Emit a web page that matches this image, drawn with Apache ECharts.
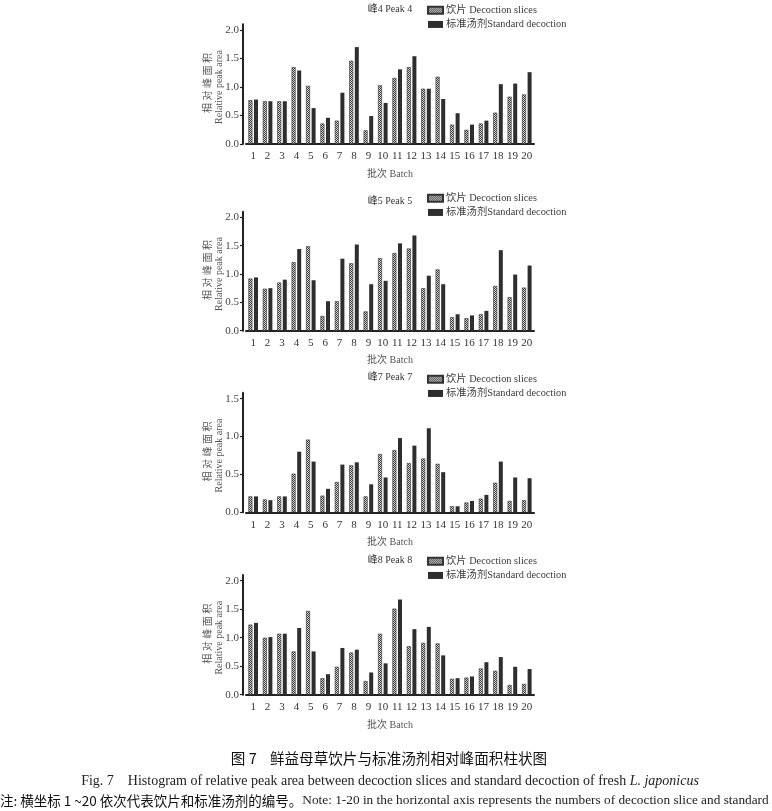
<!DOCTYPE html>
<html>
<head>
<meta charset="utf-8">
<script src="https://cdn.jsdelivr.net/npm/echarts@6/dist/echarts.min.js"></script>
<style>html,body{margin:0;padding:0;background:#fff;}#c{width:772px;height:811px;}</style>
</head>
<body>
<div id="c"></div>
<script>
var categories = ['1','2','3','4','5','6','7','8','9','10','11','12','13','14','15','16','17','18','19','20'];
var peakTitles = ['峰4 Peak 4', '峰5 Peak 5', '峰7 Peak 7', '峰8 Peak 8'];
var yTicks = [[0, 0.5, 1.0, 1.5, 2.0], [0, 0.5, 1.0, 1.5, 2.0], [0, 0.5, 1.0, 1.5], [0, 0.5, 1.0, 1.5, 2.0]];
var yAxisEnds = [2.1, 2.1, 1.58, 2.1];
var peak4Slices = [0.77,0.75,0.75,1.35,1.02,0.36,0.41,1.46,0.24,1.03,1.16,1.35,0.97,1.18,0.34,0.25,0.36,0.55,0.83,0.87];
var peak4Std    = [0.78,0.75,0.75,1.29,0.63,0.46,0.90,1.70,0.49,0.72,1.31,1.54,0.97,0.79,0.54,0.34,0.41,1.05,1.06,1.26];
var peak5Slices = [0.92,0.74,0.85,1.21,1.49,0.26,0.52,1.19,0.34,1.28,1.37,1.45,0.75,1.08,0.24,0.22,0.29,0.79,0.59,0.76];
var peak5Std    = [0.94,0.75,0.90,1.44,0.89,0.52,1.27,1.52,0.82,0.88,1.54,1.68,0.97,0.82,0.29,0.27,0.35,1.42,0.99,1.15];
var peak7Slices = [0.21,0.17,0.21,0.51,0.96,0.22,0.40,0.62,0.21,0.77,0.82,0.65,0.71,0.64,0.08,0.13,0.18,0.39,0.15,0.16];
var peak7Std    = [0.21,0.16,0.21,0.80,0.67,0.31,0.63,0.66,0.37,0.46,0.98,0.88,1.11,0.53,0.08,0.15,0.23,0.67,0.46,0.45];
var peak8Slices = [1.23,1.00,1.07,0.76,1.47,0.29,0.49,0.74,0.24,1.07,1.51,0.85,0.91,0.90,0.28,0.30,0.46,0.42,0.17,0.19];
var peak8Std    = [1.26,1.01,1.07,1.17,0.76,0.36,0.82,0.79,0.39,0.55,1.67,1.15,1.19,0.69,0.29,0.32,0.57,0.66,0.49,0.45];
var slicesName = '饮片 Decoction slices';
var stdName = '标准汤剂Standard decoction';

var sliceData = [peak4Slices, peak5Slices, peak7Slices, peak8Slices];
var stdData = [peak4Std, peak5Std, peak7Std, peak8Std];

// checker pattern
var pc = document.createElement('canvas');
pc.width = 2; pc.height = 2;
var pctx = pc.getContext('2d');
pctx.fillStyle = '#d8d8d8'; pctx.fillRect(0,0,2,2);
pctx.fillStyle = '#3c3c3c'; pctx.fillRect(0,0,1,1); pctx.fillRect(1,1,1,1);
var pattern = {image: pc, repeat: 'repeat'};

var serif = '"Liberation Serif","Noto Sans CJK SC",serif';
// pixel position of the baseline (value 0) and of the top tick for each panel
var zeroY = [144, 330.7, 512.3, 694.7];
var topTickY = [30, 217.3, 398.7, 580.7];
var titleY = [9, 201, 377, 560];
var legendTop = [5, 193, 374, 556];
var xNameY = [174, 360, 542, 725];

var grids = [], xAxes = [], yAxes = [], series = [], legends = [], graphics = [];
for (var i = 0; i < 4; i++) {
  var topVal = yTicks[i][yTicks[i].length - 1];
  var pxPerUnit = (zeroY[i] - topTickY[i]) / topVal;
  var gridTop = zeroY[i] - pxPerUnit * yAxisEnds[i];
  grids.push({left: 246, width: 288, top: gridTop, height: zeroY[i] - gridTop});
  xAxes.push({
    type: 'category', gridIndex: i, data: categories,
    axisLine: {lineStyle: {color: '#222', width: 2}},
    axisTick: {alignWithLabel: true, length: 4, lineStyle: {color: '#222', width: 1.2}},
    axisLabel: {margin: 7, color: '#333', fontFamily: serif, fontSize: 11}
  });
  yAxes.push({
    type: 'value', gridIndex: i, min: 0, max: yAxisEnds[i], offset: 3,
    splitLine: {show: false},
    axisLine: {show: true, lineStyle: {color: '#222', width: 2}},
    axisTick: {show: true, length: 3, customValues: yTicks[i], lineStyle: {color: '#222', width: 1.2}},
    axisLabel: {margin: 4, color: '#444', fontFamily: serif, fontSize: 11, customValues: yTicks[i],
      formatter: function (v) { return Number(v).toFixed(1); }}
  });
  series.push({
    name: slicesName, type: 'bar', xAxisIndex: i, yAxisIndex: i, data: sliceData[i],
    barWidth: 4, barGap: '40%',
    itemStyle: {color: pattern, borderColor: '#333', borderWidth: 0.6}
  });
  series.push({
    name: stdName, type: 'bar', xAxisIndex: i, yAxisIndex: i, data: stdData[i],
    barWidth: 4, barGap: '40%',
    itemStyle: {color: '#2e2e2e'}
  });
  legends.push({
    left: 427, top: legendTop[i], padding: 0, orient: 'vertical', itemWidth: 15, itemHeight: 7, itemGap: 4,
    icon: 'rect', data: [slicesName, stdName],
    textStyle: {fontFamily: serif, fontSize: 10.3, color: '#3a3a3a', padding: [0, 0, 0, -2]}
  });
  graphics.push({type: 'text', silent: true, position: [390, titleY[i]],
    style: {text: peakTitles[i], textAlign: 'center', textVerticalAlign: 'middle',
      font: '10px ' + serif, fill: '#333'}});
  graphics.push({type: 'text', silent: true, position: [390, xNameY[i]],
    style: {text: '批次 Batch', textAlign: 'center', textVerticalAlign: 'middle',
      font: '10px ' + serif, fill: '#555'}});
  var midY = (zeroY[i] + topTickY[i]) / 2;
  graphics.push({type: 'text', silent: true, position: [208, midY - 4], rotation: Math.PI / 2,
    style: {text: '相 对 峰 面 积', textAlign: 'center', textVerticalAlign: 'middle',
      font: '10px ' + serif, fill: '#555'}});
  graphics.push({type: 'text', silent: true, position: [219, midY], rotation: Math.PI / 2,
    style: {text: 'Relative peak area', textAlign: 'center', textVerticalAlign: 'middle',
      font: '10px ' + serif, fill: '#555'}});
}

graphics.push({type: 'text', silent: true, position: [389, 758],
  style: {text: '图 7    鲜益母草饮片与标准汤剂相对峰面积柱状图', textAlign: 'center', textVerticalAlign: 'middle',
    font: '14.6px "Noto Sans CJK SC", sans-serif', fill: '#111'}});
graphics.push({type: 'text', silent: true, position: [390, 781],
  style: {rich: {
      a: {font: '14px ' + serif, fill: '#222'},
      b: {font: 'italic 14px ' + serif, fill: '#222'}
    },
    text: '{a|Fig. 7    Histogram of relative peak area between decoction slices and standard decoction of fresh }{b|L. japonicus}',
    textAlign: 'center', textVerticalAlign: 'middle'}});
graphics.push({type: 'text', silent: true, position: [0, 801],
  style: {rich: {
      a: {font: '13.5px "Noto Sans CJK SC", sans-serif', fill: '#111'},
      b: {font: '13.3px ' + serif, fill: '#222'}
    },
    text: '{a|注: 横坐标 1 ~20 依次代表饮片和标准汤剂的编号。}{b|Note: 1-20 in the horizontal axis represents the numbers of decoction slice and standard}',
    textAlign: 'left', textVerticalAlign: 'middle'}});

var chart = echarts.init(document.getElementById('c'), null, {renderer: 'canvas'});
chart.setOption({
  animation: false,
  backgroundColor: '#fff',
  grid: grids, xAxis: xAxes, yAxis: yAxes, series: series, legend: legends,
  graphic: graphics
});
</script>
</body>
</html>
